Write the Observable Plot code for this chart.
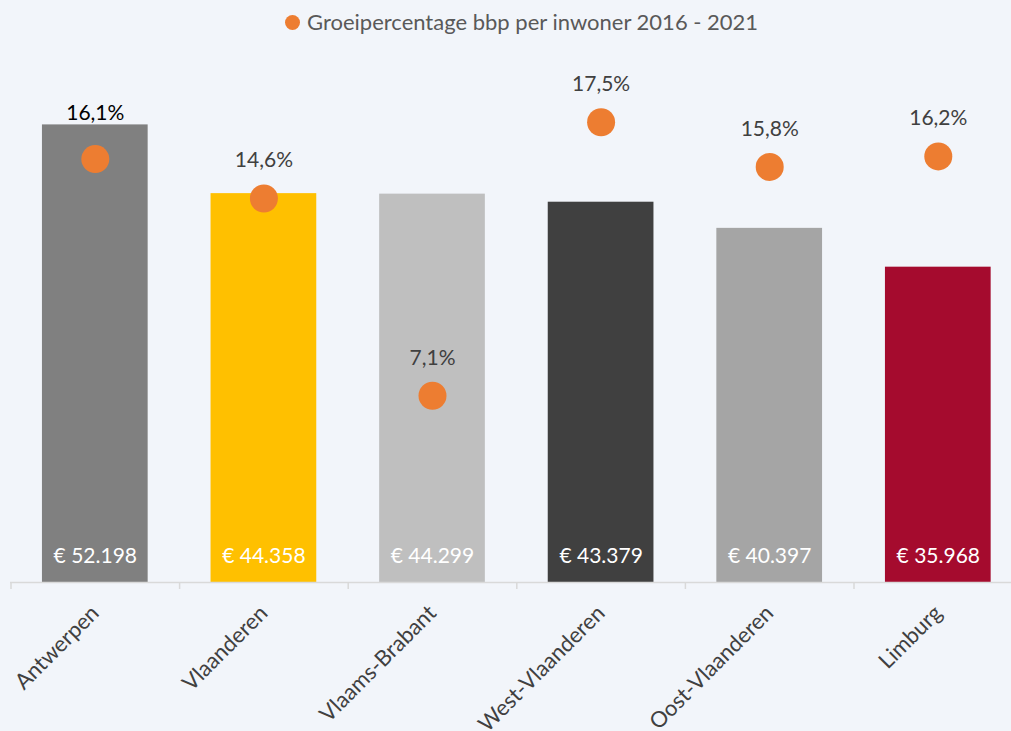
<!DOCTYPE html>
<html>
<head>
<meta charset="utf-8">
<script src="https://cdn.jsdelivr.net/npm/d3@7"></script>
<script src="https://cdn.jsdelivr.net/npm/@observablehq/plot@0.6"></script>
<style>
  body { margin: 0; background: #F2F5FA; font-family: Lato, sans-serif; }
  #legend { height: 45px; position: relative; }
  #legend .dot { position: absolute; left: 285px; top: 15px; width: 15px; height: 15px; border-radius: 50%; background: #ED7D31; }
  #legend .lbl { position: absolute; left: 307px; top: 8px; font-size: 22px; color: #595959; white-space: nowrap; }
  #chart svg { display: block; }
</style>
</head>
<body>
<div id="legend"><span class="dot"></span><span class="lbl">Groeipercentage bbp per inwoner 2016 - 2021</span></div>
<div id="chart"></div>
<script>
// ---- data ----
const regions = ["Antwerpen", "Vlaanderen", "Vlaams-Brabant", "West-Vlaanderen", "Oost-Vlaanderen", "Limburg"];
const bbpPerInwoner = [52198, 44358, 44299, 43379, 40397, 35968];
const groei = [16.1, 14.6, 7.1, 17.5, 15.8, 16.2];
const legendLabel = "Groeipercentage bbp per inwoner 2016 - 2021";

// ---- styles ----
const barColors = ["#808080", "#FFC000", "#BFBFBF", "#404040", "#A5A5A5", "#A50B2E"];
const dotColor = "#ED7D31";

// primary axis 0–60000 €, secondary axis 0–20 %
const yMax = 60000, pctMax = 20;

const fmtEuro = v => "€ " + d3.format(",")(v).replace(/,/g, ".");
const fmtPct = v => d3.format(".1f")(v).replace(".", ",") + "%";

const data = regions.map((r, i) => ({
  region: r,
  bbp: bbpPerInwoner[i],
  groei: groei[i],
  gy: groei[i] * yMax / pctMax
}));

const x0 = 10.5, x1 = 1022.1;
const step = (x1 - x0) / regions.length;

const chart = Plot.plot({
  width: 1011,
  height: 686,
  marginTop: 11,
  marginBottom: 149,
  marginLeft: 10,
  marginRight: 0,
  style: { background: "#F2F5FA", fontFamily: "Lato, sans-serif", overflow: "hidden" },
  x: { domain: regions, range: [x0, x1], paddingInner: 0.373, paddingOuter: 0.1865, round: false, axis: null },
  y: { domain: [0, yMax], axis: null },
  color: { domain: regions, range: barColors },
  marks: [
    Plot.barY(data, { x: "region", y: "bbp", fill: "region" }),
    Plot.ruleY([0], { stroke: "#D9D9D9", strokeWidth: 1.5 }),
    Plot.ruleX(data, { x: "region", y1: d => 0, y2: d => 0, dx: -step / 2, insetBottom: -7, stroke: "#D9D9D9", strokeWidth: 1.5 }),
    Plot.axisX({ tickRotate: -45, tickSize: 0, tickPadding: 27, fontSize: 22, fill: "#404040", label: null }),
    Plot.text(data, { x: "region", y: d => 0, text: d => fmtEuro(d.bbp), fill: "white", dy: -26, fontSize: 21 }),
    Plot.dot(data, { x: "region", y: "gy", r: 14, fill: dotColor }),
    Plot.text(data, { filter: (d, i) => i === 0, x: "region", y: "gy", text: d => fmtPct(d.groei), fill: "#000000", dy: -46, fontSize: 21 }),
    Plot.text(data, { filter: (d, i) => i > 0, x: "region", y: "gy", text: d => fmtPct(d.groei), fill: "#404040", dy: -38, fontSize: 21 })
  ]
});
document.getElementById("chart").appendChild(chart);
</script>
</body>
</html>
